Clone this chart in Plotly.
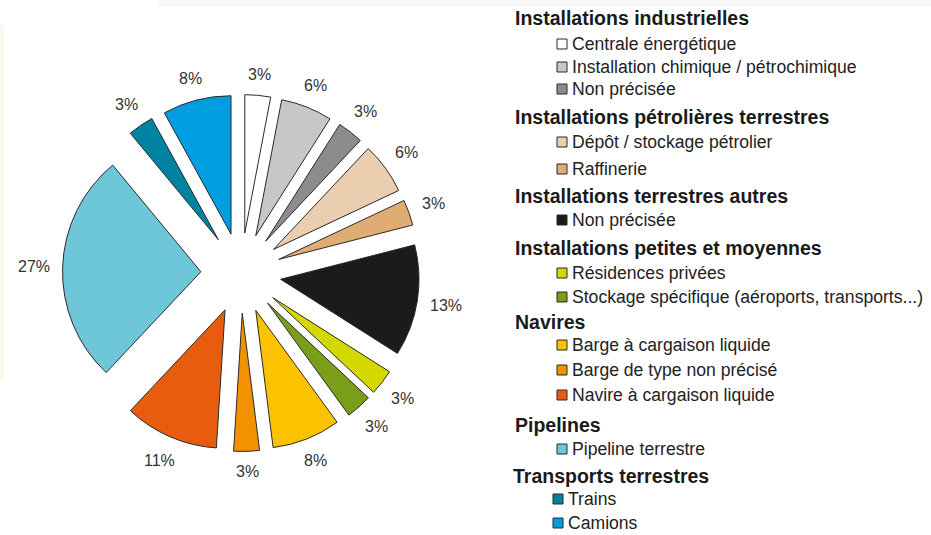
import math
import plotly.graph_objects as go

# Slice data, clockwise from 12 o'clock
labels = [
    "Centrale énergétique",
    "Installation chimique / pétrochimique",
    "Non précisée",
    "Dépôt / stockage pétrolier",
    "Raffinerie",
    "Non précisée ",
    "Résidences privées",
    "Stockage spécifique (aéroports, transports...)",
    "Barge à cargaison liquide",
    "Barge de type non précisé",
    "Navire à cargaison liquide",
    "Pipeline terrestre",
    "Trains",
    "Camions",
]
values = [3, 6, 3, 6, 3, 13, 3, 3, 8, 3, 11, 27, 3, 8]
colors = [
    "#ffffff", "#c6c7c9", "#8c8c8e",
    "#ebcdb0", "#dfac73",
    "#1b1a1c",
    "#d4d700", "#7a9e18",
    "#fcc200", "#f39200", "#e85c10",
    "#6ec6d9",
    "#0083a1", "#009ee0",
]

# Legend groups: heading and number of slices it covers
group_titles = [
    "Installations industrielles",
    "Installations pétrolières terrestres",
    "Installations terrestres autres",
    "Installations petites et moyennes",
    "Navires",
    "Pipelines",
    "Transports terrestres",
]
group_sizes = [3, 2, 1, 2, 3, 1, 2]

W, H = 931, 535
FONT = "Liberation Sans, Arial, sans-serif"
INK = "#2a2a2a"
LABEL_SIZE = 16

# pie placement in pixels: centre and outer reach of a pulled slice
cx, cy, R = 241, 273, 178.5
pull = 0.29


def px(x):
    return x / W


def py(y):
    return 1 - y / H


fig = go.Figure()
fig.add_trace(go.Pie(
    labels=labels,
    values=values,
    sort=False,
    direction="clockwise",
    rotation=0,
    pull=[pull] * len(values),
    marker=dict(colors=colors, line=dict(color=INK, width=1)),
    textinfo="none",
    showlegend=False,
    hoverinfo="label+value",
    domain=dict(x=[px(cx - R), px(cx + R)], y=[py(cy + R), py(cy - R)]),
))

annotations = []
shapes = []

# Percentage labels just beyond the outer end of each slice
total = float(sum(values))
cum = 0.0
for v in values:
    mid = 2 * math.pi * (cum + v / 2) / total
    cum += v
    dx, dy = math.sin(mid), -math.cos(mid)
    text = "%d%%" % v
    tw = LABEL_SIZE * (0.556 * (len(text) - 1) + 0.889)
    reach = R + 12 + abs(dx) * tw / 2 + abs(dy) * LABEL_SIZE / 2
    annotations.append(dict(
        x=px(cx + reach * dx), y=py(cy + reach * dy), xref="paper", yref="paper",
        text=text, showarrow=False, xanchor="center", yanchor="middle",
        font=dict(family=FONT, size=LABEL_SIZE, color="#333333"),
    ))

# Legend rows (pixel y of each row's centre)
title_y = [18, 117, 196, 248, 322, 425, 476]
item_y = [44, 67, 89, 142, 169, 220, 273, 297, 345, 370, 395, 449, 499, 523]
title_x = [513, 513, 513, 513, 513, 513, 511]
item_x = [557] * 12 + [553, 553]

k = 0
for g, (title, n) in enumerate(zip(group_titles, group_sizes)):
    annotations.append(dict(
        x=px(title_x[g]), y=py(title_y[g]), xref="paper", yref="paper",
        text="<b>%s</b>" % title, showarrow=False, xanchor="left", yanchor="middle",
        font=dict(family=FONT, size=19.5, color="#1a1a1a"),
    ))
    for _ in range(n):
        x0 = item_x[k]
        yc = item_y[k]
        shapes.append(dict(
            type="rect", xref="paper", yref="paper",
            x0=px(x0), x1=px(x0 + 10), y0=py(yc + 5), y1=py(yc - 5),
            fillcolor=colors[k], line=dict(color=INK, width=1),
        ))
        annotations.append(dict(
            x=px(x0 + 13), y=py(yc), xref="paper", yref="paper",
            text=labels[k].strip(), showarrow=False, xanchor="left", yanchor="middle",
            font=dict(family=FONT, size=17.6, color="#222222"),
        ))
        k += 1

# faint paper tint along the top and left edges
shapes.insert(0, dict(type="rect", xref="paper", yref="paper", layer="below",
                      x0=px(158), x1=1, y0=py(7), y1=1,
                      fillcolor="#f8f8f8", line=dict(width=0)))
shapes.insert(0, dict(type="rect", xref="paper", yref="paper", layer="below",
                      x0=0, x1=px(4), y0=py(380), y1=py(25),
                      fillcolor="#fcf7e9", line=dict(width=0)))

fig.update_layout(
    width=W, height=H,
    margin=dict(l=0, r=0, t=0, b=0, autoexpand=False),
    paper_bgcolor="white",
    plot_bgcolor="white",
    annotations=annotations,
    shapes=shapes,
)

fig.write_html("out.html")
